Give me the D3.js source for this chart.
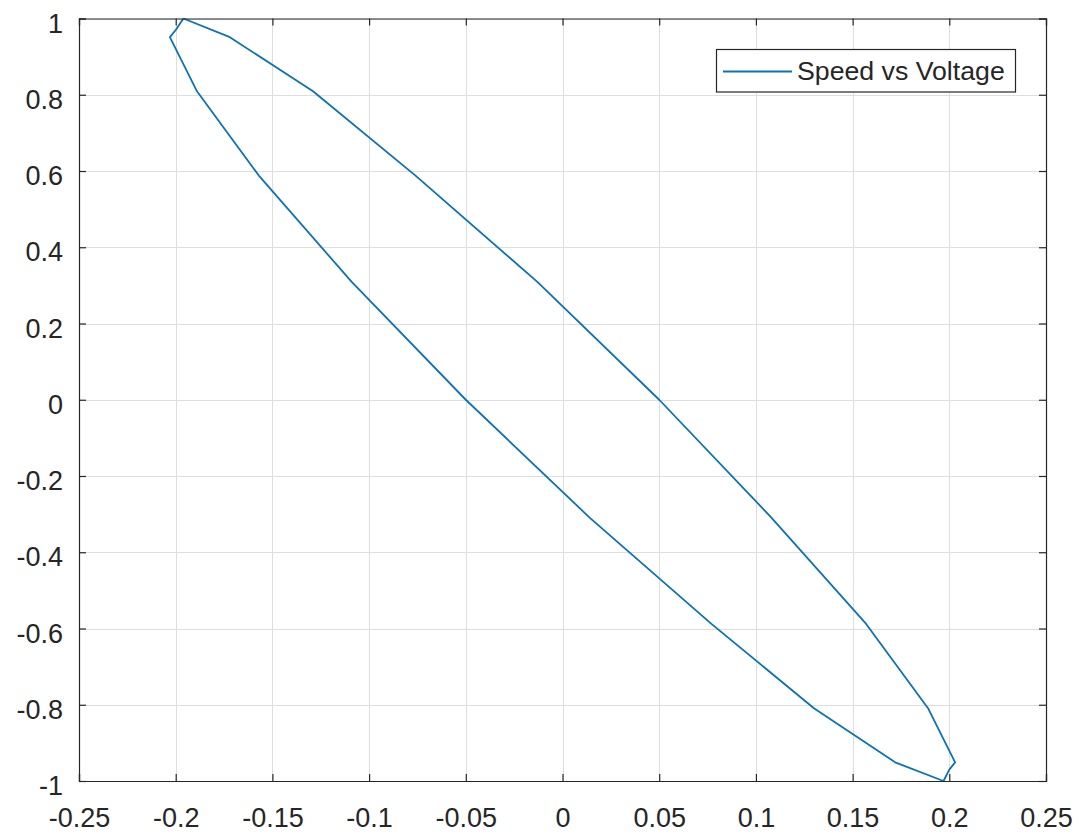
<!DOCTYPE html>
<html>
<head>
<meta charset="utf-8">
<script src="https://cdn.jsdelivr.net/npm/d3@7"></script>
<style>
  html, body { margin: 0; padding: 0; background: #fff; }
  svg { display: block; }
  text { font-family: "Liberation Sans", Arial, sans-serif; fill: #262626; }
</style>
</head>
<body>
<svg id="chart" width="1086" height="835"></svg>
<script>
// Voltage (x) and Speed (y)
const voltage = [-0.196, -0.172, -0.129, -0.076, -0.013, 0.050, 0.108, 0.157, 0.189, 0.203, 0.200, 0.197,
                 0.172, 0.130, 0.077, 0.014, -0.050, -0.109, -0.157, -0.189, -0.203, -0.200, -0.196];
const speed   = [1.000, 0.951, 0.809, 0.588, 0.309, 0.000, -0.309, -0.588, -0.809, -0.951, -0.970, -1.000,
                 -0.951, -0.809, -0.588, -0.309, 0.000, 0.309, 0.588, 0.809, 0.951, 0.970, 1.000];
const seriesName = "Speed vs Voltage";
const xTicks = [-0.25, -0.2, -0.15, -0.1, -0.05, 0, 0.05, 0.1, 0.15, 0.2, 0.25];
const yTicks = [-1, -0.8, -0.6, -0.4, -0.2, 0, 0.2, 0.4, 0.6, 0.8, 1];
const xTickLabels = ["-0.25", "-0.2", "-0.15", "-0.1", "-0.05", "0", "0.05", "0.1", "0.15", "0.2", "0.25"];
const yTickLabels = ["-1", "-0.8", "-0.6", "-0.4", "-0.2", "0", "0.2", "0.4", "0.6", "0.8", "1"];

const L = 79, R = 1046, T = 18.5, B = 781;
const svg = d3.select("#chart");
const x = d3.scaleLinear().domain([-0.25, 0.25]).range([L, R]);
const y = d3.scaleLinear().domain([-1, 1]).range([B, T]);

// grid
const grid = svg.append("g");
grid.selectAll("line.gx").data(xTicks).join("line")
  .attr("x1", d => Math.round(x(d)) + 0.5).attr("x2", d => Math.round(x(d)) + 0.5)
  .attr("y1", T).attr("y2", B).attr("stroke", "#dedede").attr("stroke-width", 1);
grid.selectAll("line.gy").data(yTicks).join("line")
  .attr("y1", d => Math.round(y(d)) + 0.5).attr("y2", d => Math.round(y(d)) + 0.5)
  .attr("x1", L).attr("x2", R).attr("stroke", "#dedede").attr("stroke-width", 1);

// data line
const pts = voltage.map((v, i) => [v, speed[i]]);
svg.append("path").datum(pts)
  .attr("fill", "none").attr("stroke", "#0d72b5").attr("stroke-width", 1.8)
  .attr("stroke-linejoin", "round")
  .attr("d", d3.line().x(d => x(d[0])).y(d => y(d[1])));

// axes with inward ticks (box)
const tl = 7;
const xAxisB = d3.axisBottom(x).tickValues(xTicks).tickSize(-tl).tickFormat((d, i) => xTickLabels[i]).tickPadding(0);
const xAxisT = d3.axisTop(x).tickValues(xTicks).tickSize(-tl).tickFormat("");
const yAxisL = d3.axisLeft(y).tickValues(yTicks).tickSize(-tl).tickFormat((d, i) => yTickLabels[i]);
const yAxisR = d3.axisRight(y).tickValues(yTicks).tickSize(-tl).tickFormat("");

function styleAxis(g) {
  g.select(".domain").attr("stroke", "#262626").attr("stroke-width", 1.2);
  g.selectAll(".tick line").attr("stroke", "#262626").attr("stroke-width", 1.2);
}
const gxb = svg.append("g").attr("transform", `translate(0,${B})`).call(xAxisB).call(styleAxis);
gxb.selectAll(".tick text").attr("font-size", 27).attr("y", 0).attr("dy", 46).style("font-family", '"Liberation Sans", Arial, sans-serif').attr("fill", "#262626");
svg.append("g").attr("transform", `translate(0,${T})`).call(xAxisT).call(styleAxis);
const gyl = svg.append("g").attr("transform", `translate(${L},0)`).call(yAxisL).call(styleAxis);
gyl.selectAll(".tick text").attr("font-size", 27).attr("x", -16).attr("dy", 13.5).style("font-family", '"Liberation Sans", Arial, sans-serif').attr("fill", "#262626");
svg.append("g").attr("transform", `translate(${R},0)`).call(yAxisR).call(styleAxis);
svg.selectAll(".domain").attr("fill", "none");

// legend
const lg = svg.append("g");
lg.append("rect").attr("x", 716.5).attr("y", 49.5).attr("width", 299).attr("height", 42.5)
  .attr("fill", "#fff").attr("stroke", "#262626").attr("stroke-width", 1.2);
lg.append("line").attr("x1", 723).attr("x2", 792).attr("y1", 71.5).attr("y2", 71.5)
  .attr("stroke", "#0d72b5").attr("stroke-width", 1.8);
lg.append("text").attr("x", 797).attr("y", 80).attr("font-size", 26.7).text(seriesName);
</script>
</body>
</html>
